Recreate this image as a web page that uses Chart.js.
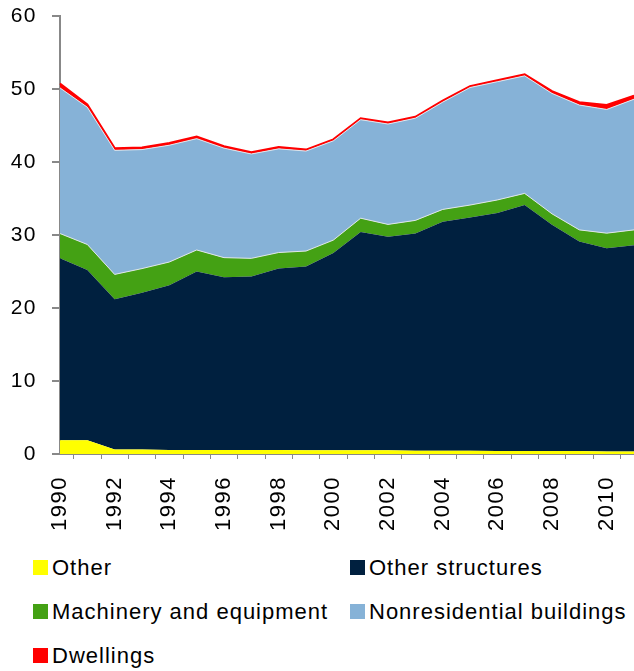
<!DOCTYPE html>
<html>
<head>
<meta charset="utf-8">
<script src="https://cdn.jsdelivr.net/npm/chart.js@4.4.1/dist/chart.umd.min.js"></script>
<style>
  body { margin: 0; background: #fff; font-family: "Liberation Sans", Arial, sans-serif; }
  #wrap { position: relative; width: 634px; height: 671px; overflow: hidden; }
  #chartBox { position: absolute; left: 0; top: 0; width: 634px; height: 540px; }
  .leg { position: absolute; font-size: 22px; line-height: 22px; letter-spacing: 1px; color: #000; white-space: nowrap; padding-left: 19px; }
  .leg i { position: absolute; left: 0; top: 3px; width: 15px; height: 15px; }
</style>
</head>
<body>
<div id="wrap">
  <div id="chartBox"><canvas id="chart"></canvas></div>
  <div id="legend"></div>
</div>
<script>
const years = ["1990","1991","1992","1993","1994","1995","1996","1997","1998","1999","2000",
               "2001","2002","2003","2004","2005","2006","2007","2008","2009","2010","2011"];

// stacked from the bottom up
const other          = [1.9, 1.9, 0.6, 0.6, 0.55, 0.55, 0.55, 0.55, 0.55, 0.5, 0.5, 0.5, 0.5, 0.45, 0.45, 0.45, 0.4, 0.4, 0.4, 0.4, 0.35, 0.35];
const otherStructures = [24.9, 23.3, 20.6, 21.5, 22.55, 24.45, 23.65, 23.75, 24.85, 25.2, 27.05, 29.9, 29.25, 29.75, 31.35, 31.95, 32.6, 33.7, 31.0, 28.7, 27.85, 28.25];
const machinery      = [3.4, 3.5, 3.4, 3.3, 3.2, 2.95, 2.7, 2.5, 2.2, 2.1, 1.75, 1.9, 1.7, 1.8, 1.7, 1.7, 1.8, 1.6, 1.5, 1.6, 2.05, 2.1];
const nonresidential = [19.95, 18.8, 17.0, 16.3, 16.0, 15.25, 15.0, 14.3, 14.2, 13.7, 13.6, 13.5, 13.75, 14.0, 14.7, 16.1, 16.2, 16.1, 16.5, 17.1, 16.95, 17.9];
const dwellings      = [0.6, 0.4, 0.3, 0.3, 0.3, 0.3, 0.25, 0.25, 0.25, 0.2, 0.2, 0.2, 0.2, 0.2, 0.2, 0.2, 0.2, 0.2, 0.3, 0.4, 0.6, 0.5];

const seriesNames  = ["Other", "Other structures", "Machinery and equipment", "Nonresidential buildings", "Dwellings"];
const seriesColors = ["#ffff00", "#00203f", "#44a114", "#86b2d7", "#ff0000"];
const seriesData   = [other, otherStructures, machinery, nonresidential, dwellings];
const yTicks = [0, 10, 20, 30, 40, 50, 60];

const lineColors = ["#ffff00", "#00203f", "#dfe6ec", "#dfe6ec", "#ff0000"];
const lineWidths = [0, 0, 1, 1, 2];

const datasets = seriesNames.map((name, i) => ({
  label: name,
  data: seriesData[i],
  backgroundColor: seriesColors[i],
  borderColor: lineColors[i],
  borderWidth: lineWidths[i],
  fill: i === 0 ? 'origin' : '-1',
  pointRadius: 0,
  tension: 0
}));

const font = { family: '"Liberation Sans", Arial, sans-serif', size: 21 };

// the original text is spaced a little wider than the font's default
const wideText = {
  id: 'wideText',
  beforeDraw: c => { c.ctx.letterSpacing = '1.5px'; },
  afterDraw: c => { c.ctx.letterSpacing = '0px'; }
};

new Chart(document.getElementById("chart"), {
  type: "line",
  data: { labels: years, datasets },
  plugins: [wideText],
  options: {
    responsive: true,
    maintainAspectRatio: false,
    animation: false,
    layout: { padding: { top: 16, left: 0, right: 0, bottom: 0 } },
    plugins: { legend: { display: false }, tooltip: { enabled: false } },
    scales: {
      x: {
        stacked: true,
        offset: false,
        grid: { offset: true, drawOnChartArea: false, tickLength: 5, color: '#888', lineWidth: 1 },
        border: { color: '#888', width: 2 },
        ticks: {
          color: '#000', font: { ...font, size: 22 }, padding: 17,
          autoSkip: false, minRotation: 90, maxRotation: 90,
          callback: (v, i) => (i % 2 === 0 ? years[i] : '')
        },
        afterFit: s => { s.height = 86; s.paddingLeft = 0; s.paddingRight = 0; }
      },
      y: {
        stacked: true,
        min: 0, max: 60,
        afterBuildTicks: s => { s.ticks = yTicks.map(v => ({ value: v })); },
        grid: { drawOnChartArea: false, tickLength: 8, color: '#888', lineWidth: 2 },
        border: { color: '#888', width: 2 },
        ticks: { color: '#000', font, padding: 15 },
        afterFit: s => { s.width = 60; s.paddingTop = 0; s.paddingBottom = 0; }
      }
    }
  }
});

// legend, two columns like the original
const legendPos = [[33, 557], [350, 557], [33, 601], [350, 601], [33, 645]];
document.getElementById("legend").innerHTML = seriesNames.map((n, i) =>
  `<div class="leg" style="left:${legendPos[i][0]}px;top:${legendPos[i][1]}px"><i style="background:${seriesColors[i]}"></i>${n}</div>`
).join("");
</script>
</body>
</html>
